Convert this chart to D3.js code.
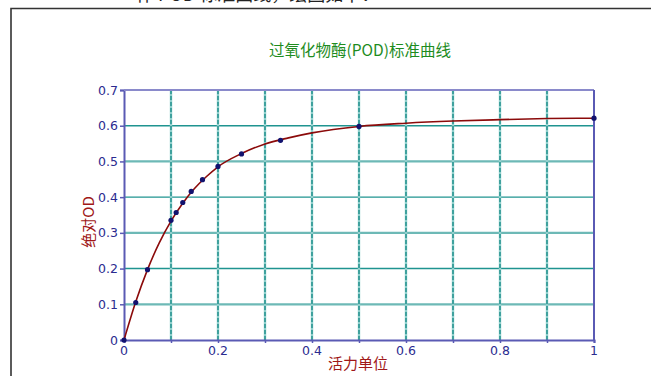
<!DOCTYPE html>
<html><head><meta charset="utf-8">
<script src="https://cdn.jsdelivr.net/npm/d3@7"></script>
<style>body{margin:0;background:#fff}svg{display:block}</style>
</head><body>
<svg id="c" width="651" height="376"></svg>
<script>
const title = "过氧化物酶(POD)标准曲线";
const xLabel = "活力单位";
const yLabel = "绝对OD";
const headText = "作 POD 标准曲线，绘图如下：";
const pointX = [0, 0.025, 0.05, 0.1, 0.111, 0.125, 0.143, 0.167, 0.2, 0.25, 0.333, 0.5, 1];
const pointY = [0, 0.105, 0.197, 0.335, 0.357, 0.385, 0.416, 0.449, 0.486, 0.521, 0.559, 0.598, 0.621];
const curveX = [0, 0.025, 0.05, 0.075, 0.1, 0.125, 0.15, 0.175, 0.2, 0.25, 0.3, 0.35, 0.4, 0.5, 0.6, 0.7, 0.8, 0.9, 1];
const curveY = [0, 0.107, 0.197, 0.272, 0.333, 0.383, 0.424, 0.457, 0.485, 0.522, 0.549, 0.566, 0.580, 0.598, 0.607, 0.613, 0.617, 0.620, 0.621];
const xTicks = [0, 0.2, 0.4, 0.6, 0.8, 1];
const xGrid = [0.1, 0.2, 0.3, 0.4, 0.5, 0.6, 0.7, 0.8, 0.9];
const yTicks = [0, 0.1, 0.2, 0.3, 0.4, 0.5, 0.6, 0.7];

const svg = d3.select("#c");
const x = d3.scaleLinear().domain([0, 1]).range([124, 594]);
const y = d3.scaleLinear().domain([0, 0.7]).range([340, 90]);

// page frame
svg.append("path").attr("d", "M11,376V8.5H651").attr("fill", "none")
  .attr("stroke", "#333").attr("stroke-width", 1.6);
svg.append("text").attr("x", 136).attr("y", 1).attr("font-size", 18)
  .attr("font-family", "Noto Sans CJK SC").attr("fill", "#222").text(headText);

// grid
const grid = svg.append("g");
grid.selectAll("line.h").data(yTicks.filter(d => d > 0 && d < 0.7)).join("line")
  .attr("x1", x(0)).attr("x2", x(1)).attr("y1", d => y(d)).attr("y2", d => y(d))
  .attr("stroke", (d, i) => i % 2 === 0 ? "#6db9b6" : "#1f9490")
  .attr("stroke-width", (d, i) => i % 2 === 0 ? 2.2 : 1.4);
grid.selectAll("line.vb").data(xGrid).join("line")
  .attr("x1", d => x(d)).attr("x2", d => x(d)).attr("y1", y(0.7)).attr("y2", y(0))
  .attr("stroke", "#8fcfcc").attr("stroke-width", 2.4);
grid.selectAll("line.vd").data(xGrid).join("line")
  .attr("x1", d => x(d)).attr("x2", d => x(d)).attr("y1", y(0.7)).attr("y2", y(0))
  .attr("stroke", "#1f8e8a").attr("stroke-width", 1.4).attr("stroke-dasharray", "4,2");

// axes
const axisColor = "#5a5ab4";
const xAxis = svg.append("g").attr("transform", `translate(0,${y(0)})`)
  .call(d3.axisBottom(x).tickValues(d3.range(0, 1.001, 0.1)).tickSize(3).tickFormat(""));
const yAxis = svg.append("g").attr("transform", `translate(${x(0)},0)`)
  .call(d3.axisLeft(y).tickValues(yTicks).tickSize(4).tickFormat(""));
[xAxis, yAxis].forEach(a => {
  a.select(".domain").attr("stroke", axisColor).attr("stroke-width", 2);
  a.selectAll(".tick line").attr("stroke", axisColor).attr("stroke-width", 1.5);
});
svg.append("line").attr("x1", x(0)).attr("x2", x(1)).attr("y1", y(0.7)).attr("y2", y(0.7))
  .attr("stroke", "#8a8acb").attr("stroke-width", 2);
svg.append("line").attr("x1", x(1)).attr("x2", x(1)).attr("y1", y(0.7)).attr("y2", y(0))
  .attr("stroke", axisColor).attr("stroke-width", 2);

const lblColor = "#2b2b90";
svg.append("g").selectAll("text").data(xTicks).join("text")
  .attr("x", d => x(d)).attr("y", y(0) + 15).attr("text-anchor", "middle")
  .attr("font-family", "DejaVu Sans, Verdana").attr("font-size", 12.5).attr("fill", lblColor)
  .text(d => d3.format("")(d));
svg.append("g").selectAll("text").data(yTicks).join("text")
  .attr("x", x(0) - 6).attr("y", d => y(d) + 4.5).attr("text-anchor", "end")
  .attr("font-family", "DejaVu Sans, Verdana").attr("font-size", 12.5).attr("fill", lblColor)
  .text(d => d3.format("")(d));

// titles
svg.append("text").attr("x", 360).attr("y", 56).attr("text-anchor", "middle")
  .attr("font-family", "Noto Sans CJK SC").attr("font-size", 15.5).attr("fill", "#1e8c1e").text(title);
svg.append("text").attr("x", 358).attr("y", 369).attr("text-anchor", "middle")
  .attr("font-family", "Noto Sans CJK SC").attr("font-size", 15).attr("fill", "#a01818").text(xLabel);
svg.append("text").attr("transform", `translate(94,222) rotate(-90)`).attr("text-anchor", "middle")
  .attr("font-family", "Noto Sans CJK SC").attr("font-size", 15).attr("fill", "#a01818").text(yLabel);

// curve
const line = d3.line().x(d => x(d[0])).y(d => y(d[1])).curve(d3.curveMonotoneX);
svg.append("path").datum(curveX.map((v, i) => [v, curveY[i]])).attr("d", line)
  .attr("fill", "none").attr("stroke", "#8b0a0a").attr("stroke-width", 1.6);

// points
svg.append("g").selectAll("circle").data(pointX.map((v, i) => [v, pointY[i]])).join("circle")
  .attr("cx", d => x(d[0])).attr("cy", d => y(d[1])).attr("r", 2.6).attr("fill", "#12126e");
</script>
</body></html>
